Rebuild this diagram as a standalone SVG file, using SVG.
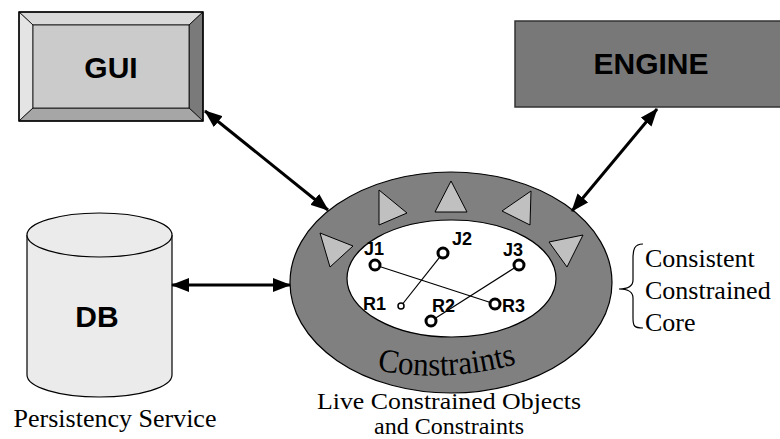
<svg xmlns="http://www.w3.org/2000/svg" width="780" height="439" viewBox="0 0 780 439">
  <style>
    .box-label { font-family: "Liberation Sans", Arial, sans-serif; font-weight: bold; font-size: 30px; text-anchor: middle; fill: #000; }
    .node-label { font-family: "Liberation Sans", Arial, sans-serif; font-weight: bold; font-size: 18px; fill: #000; }
    .caption { font-family: "Liberation Serif", "Times New Roman", serif; font-size: 26px; fill: #000; }
    .caption-sm { font-family: "Liberation Serif", "Times New Roman", serif; font-size: 23px; fill: #000; text-anchor: middle; }
    .link { stroke: #000; stroke-width: 3; fill: none; marker-start: url(#head); marker-end: url(#head); }
    .tri { fill: #c0c0c0; stroke: #000; stroke-width: 1; stroke-linejoin: miter; }
    .joint { fill: #fff; stroke: #000; stroke-width: 3; }
    .bar { stroke: #000; stroke-width: 1.2; }
  </style>
  <defs>
    <marker id="head" viewBox="0 0 18 14" refX="17" refY="7" markerWidth="18" markerHeight="14" markerUnits="userSpaceOnUse" orient="auto-start-reverse">
      <path d="M0,0 L18,7 L0,14 Z" fill="#000"/>
    </marker>
    <path id="ringArc" d="M377,370 Q448,384 520,363"/>
  </defs>

  <rect width="780" height="439" fill="#fff"/>

  <!-- GUI: bevelled button -->
  <g id="gui">
    <polygon points="19,12 203,12 189,25 33,25" fill="#d9d9d9" stroke="#000" stroke-width="0.8"/>
    <polygon points="19,12 33,25 33,108 19,121" fill="#e4e4e4" stroke="#000" stroke-width="0.8"/>
    <polygon points="203,12 203,121 189,108 189,25" fill="#7a7a7a" stroke="#000" stroke-width="0.8"/>
    <polygon points="19,121 33,108 189,108 203,121" fill="#a6a6a6" stroke="#000" stroke-width="0.8"/>
    <rect x="33" y="25" width="156" height="83" fill="#cbcbcb" stroke="#000" stroke-width="0.8"/>
    <rect x="19" y="12" width="184" height="109" fill="none" stroke="#000" stroke-width="1.5"/>
    <text class="box-label" x="111" y="78">GUI</text>
  </g>

  <!-- ENGINE -->
  <g id="engine">
    <rect x="515" y="21" width="290" height="86" fill="#787878" stroke="#333" stroke-width="1.5"/>
    <text class="box-label" x="651" y="74">ENGINE</text>
  </g>

  <!-- DB cylinder -->
  <g id="db">
    <path d="M27,235 L27,375 A72.5,22 0 0 0 172,375 L172,235" fill="#ebebeb" stroke="#000" stroke-width="1.2"/>
    <ellipse cx="99.5" cy="235" rx="72.5" ry="22" fill="#ebebeb" stroke="#000" stroke-width="1.2"/>
    <text class="box-label" x="97" y="327">DB</text>
    <text class="caption" x="115" y="427" text-anchor="middle">Persistency Service</text>
  </g>

  <!-- Constrained core: outer ring of constraints around the live objects -->
  <g id="core">
    <ellipse cx="451" cy="282.5" rx="161" ry="110.5" fill="#808080" stroke="#000" stroke-width="1.2"/>
    <ellipse cx="451.5" cy="278.5" rx="104.5" ry="58.5" fill="#fff" stroke="#000" stroke-width="1.2"/>
    <polygon class="tri" points="320,233 353,246 330,267"/>
    <polygon class="tri" points="379,190 407,213 379,225"/>
    <polygon class="tri" points="451,181 467,212 435,212"/>
    <polygon class="tri" points="531,191 530,225 502,211"/>
    <polygon class="tri" points="583,235 567,267 549,242"/>
    <text font-family="'Liberation Serif', 'Times New Roman', serif" font-size="33" fill="#000">
      <textPath href="#ringArc" textLength="141" lengthAdjust="spacingAndGlyphs">Constraints</textPath>
    </text>
    <text class="caption-sm" x="449" y="409" textLength="264" lengthAdjust="spacingAndGlyphs">Live Constrained Objects</text>
    <text class="caption-sm" x="449" y="434" textLength="150" lengthAdjust="spacingAndGlyphs">and Constraints</text>
  </g>

  <!-- bars between joints -->
  <g id="bars">
    <line class="bar" x1="375" y1="265" x2="495" y2="304"/>
    <line class="bar" x1="443" y1="253" x2="401" y2="306"/>
    <line class="bar" x1="519" y1="265" x2="431" y2="321"/>
  </g>

  <g id="j1">
    <circle class="joint" cx="375" cy="265" r="5"/>
    <text class="node-label" x="364" y="255">J1</text>
  </g>
  <g id="j2">
    <circle class="joint" cx="443" cy="253" r="5"/>
    <text class="node-label" x="452" y="245">J2</text>
  </g>
  <g id="j3">
    <circle class="joint" cx="519" cy="265" r="5"/>
    <text class="node-label" x="503" y="256">J3</text>
  </g>
  <g id="r1">
    <circle cx="401" cy="306" r="3" fill="#fff" stroke="#000" stroke-width="1.5"/>
    <text class="node-label" x="363" y="310">R1</text>
  </g>
  <g id="r2">
    <circle class="joint" cx="431" cy="321" r="5"/>
    <text class="node-label" x="432" y="312">R2</text>
  </g>
  <g id="r3">
    <circle class="joint" cx="495" cy="304" r="5"/>
    <text class="node-label" x="502" y="312">R3</text>
  </g>

  <!-- brace and its caption -->
  <g id="core-note">
    <path d="M643,244 C634,244 633,250 633,258 L633,280 C633,286 628,289 619,289 C628,289 633,292 633,298 L633,318 C633,326 634,328 643,328" fill="none" stroke="#000" stroke-width="1.2"/>
    <text class="caption" x="645" y="267">Consistent</text>
    <text class="caption" x="645" y="299">Constrained</text>
    <text class="caption" x="645" y="331">Core</text>
  </g>

  <!-- two-way connectors -->
  <g id="connectors">
    <line class="link" x1="205" y1="111" x2="328" y2="210"/>
    <line class="link" x1="657" y1="109" x2="572" y2="211"/>
    <line class="link" x1="172" y1="285" x2="290" y2="285"/>
  </g>
</svg>
